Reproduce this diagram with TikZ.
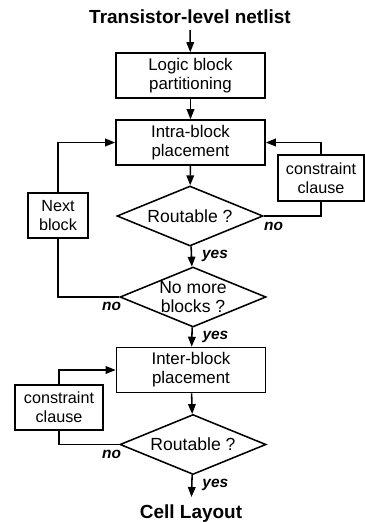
\documentclass[tikz,border=0pt]{standalone}
\usepackage{fontspec}
\setmainfont{Liberation Sans}
\usetikzlibrary{shapes.geometric,arrows.meta}
\tikzset{
  stepbox/.style={draw,line width=1.1pt,minimum width=3.725cm,minimum height=1.125cm,
    align=center,inner sep=1pt,font=\fontsize{12}{13.5}\selectfont},
  sidebox/.style={stepbox,font=\fontsize{11.5}{13.5}\selectfont},
  test/.style={draw,diamond,aspect=2.45,line width=1.1pt,minimum width=3.65cm,minimum height=1.5cm,
    inner sep=0pt,align=center,font=\fontsize{12.5}{13.5}\selectfont},
  heading/.style={font=\fontsize{13.5}{16}\selectfont\bfseries},
  answer/.style={font=\fontsize{11}{12}\selectfont\bfseries\itshape,inner sep=0pt},
  link/.style={line width=1.1pt},
  flow/.style={link,-{Triangle[length=2.5mm,width=1.9mm]}}
}
\begin{document}
\begin{tikzpicture}[x=0.025cm,y=-0.025cm]
  \useasboundingbox (0,0) rectangle (365,522);
  %% main column
  \node[heading,anchor=south,inner sep=4.3pt] (netlist) at (190,30) {Transistor-level netlist};
  \node[stepbox] (part) at (190.5,75.5) {Logic block\\partitioning};
  \node[stepbox] (intra) at (190.5,142.5) {Intra-block\\placement};
  \node[test] (route1) at (190,216) {Routable ?};
  \node[test] (more) at (193,297) {No more\\blocks ?};
  \node[stepbox] (inter) at (191,370) {Inter-block\\placement};
  \node[test] (route2) at (193,444.5) {Routable ?};
  \node[heading,anchor=north,inner sep=5.5pt] (layout) at (191,497) {Cell Layout};
  %% side boxes
  \node[sidebox,minimum width=2.15cm,minimum height=1.15cm] (clause1) at (321,178) {constraint\\clause};
  \node[sidebox,minimum width=1.5cm] (next) at (58,215.5) {Next\\block};
  \node[sidebox,minimum width=2.2cm] (clause2) at (59,407.5) {constraint\\clause};
  %% main flow
  \draw[flow] (netlist) -- (part);
  \draw[flow] (part) -- (intra);
  \draw[flow] (intra) -- (route1);
  \draw[flow] (route1) -- node[answer,pos=0.45,right=7pt] {yes} (more);
  \draw[flow] (more) -- node[answer,pos=0.5,right=7pt] {yes} (inter);
  \draw[flow] (inter) -- (route2);
  \draw[flow] (route2) -- node[answer,pos=0.45,right=7pt] {yes} (layout);
  %% loops
  \draw[link] (route1.east) -| (clause1.south);
  \draw[flow] (clause1.north) |- (intra.east);
  \node[answer,anchor=north west] at ([yshift=-4pt]route1.east) {no};
  \draw[link] (more.west) -| (next.south);
  \draw[flow] (next.north) |- (intra.west);
  \node[answer,anchor=north east] at ([shift={(1.5pt,-3.5pt)}]more.west) {no};
  \draw[link] (route2.west) -| (clause2.south);
  \draw[flow] (clause2.north) |- (inter.west);
  \node[answer,anchor=north east] at ([shift={(1.5pt,-3.5pt)}]route2.west) {no};
\end{tikzpicture}
\end{document}
